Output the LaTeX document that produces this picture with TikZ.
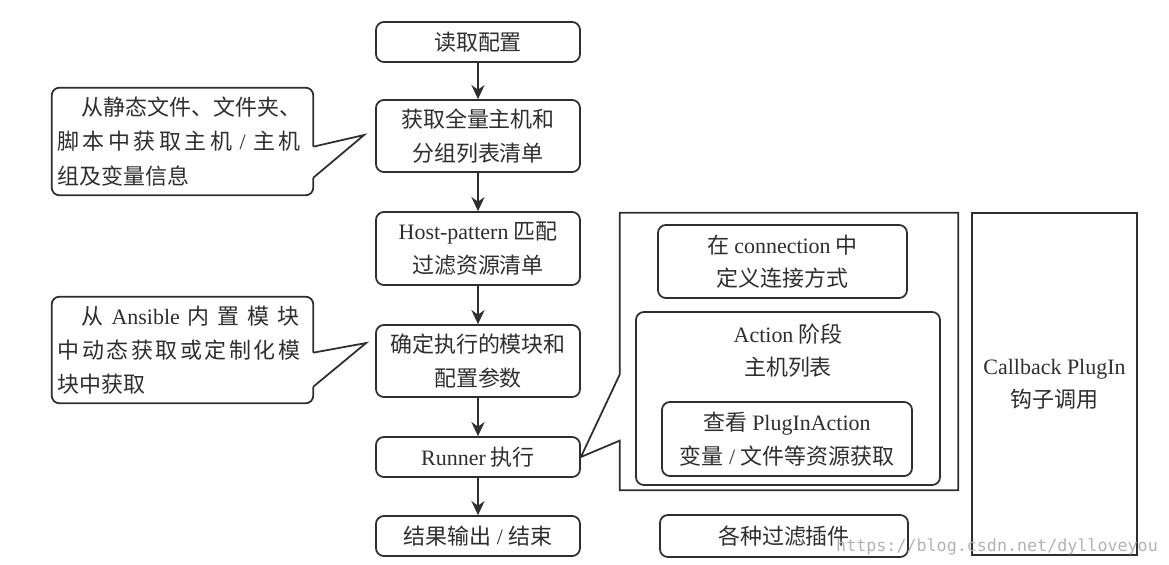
\documentclass[tikz,border=0pt]{standalone}
\usepackage{fontspec}
\setmainfont{Noto Sans CJK SC}
\newfontfamily\latfont{Liberation Serif}
\newfontfamily\wmfont{DejaVu Sans Mono}
\newcommand{\lat}[1]{{\latfont #1}}
\usepackage{tikz}
\usetikzlibrary{calc,arrows.meta,positioning}
\definecolor{ink}{HTML}{2E2E2E}

\begin{document}
\begin{tikzpicture}[
 box/.style={draw=ink, line width=1pt, rounded corners=4.5pt, minimum width=#1,
 minimum height=0.8cm, inner sep=1pt, align=center, text=ink,
 font=\fontsize{12.5}{19}\selectfont},
 box/.default=4.08cm,
 notebox/.style={text width=5.0cm, minimum width=5.22cm, inner sep=0.1cm,
 align=left, text=ink, font=\fontsize{12.5}{19.5}\selectfont},
 arr/.style={-{Stealth[length=8pt, width=7.5pt]}, line width=1pt, ink},
 frame/.style={draw=ink, line width=1pt, line join=miter}
]
\useasboundingbox (0,0) rectangle (23.38,-11.28);

% Main flow
\node[box] (read) at (9.56,-0.84) {读取配置};
\node[box, minimum height=1.44cm] (all) at (9.56,-2.72) {获取全量主机和\\分组列表清单};
\node[box, minimum height=1.46cm] (host) at (9.56,-4.97) {\lat{Host-pattern} 匹配\\过滤资源清单};
\node[box, minimum height=1.44cm] (mod) at (9.56,-7.22) {确定执行的模块和\\配置参数};
\node[box] (run) at (9.56,-9.14) {\lat{Runner} 执行};
\node[box] (out) at (9.56,-10.72) {结果输出\lat{ / }结束};

\draw[arr] (read.south) -- (all.north);
\draw[arr] (all.south) -- (host.north);
\draw[arr] (host.south) -- (mod.north);
\draw[arr] (mod.south) -- (run.north);
\draw[arr] (run.south) -- (out.north);

% Callouts on the left
\node[notebox, minimum height=2.14cm] (c1) at (3.65,-2.83) {
 \hspace*{1.1em}\makebox[4.36cm][s]{从\hfil 静\hfil 态\hfil 文\hfil 件\hfil 、\hfil 文\hfil 件\hfil 夹\hfil 、}\\
 \makebox[4.86cm][s]{脚\hfil 本\hfil 中\hfil 获\hfil 取\hfil 主\hfil 机\lat{ / }主\hfil 机}\\
 组及变量信息
};
\coordinate (c1a) at ([yshift=-1.18cm]c1.north east);
\coordinate (c1b) at ([yshift=-1.8cm]c1.north east);
\draw[frame, rounded corners=4.5pt] (c1a) -- (c1.north east) -- (c1.north west)
 -- (c1.south west) -- (c1.south east) -- (c1b);
\draw[frame] (c1a) -- ($(all.west)+(-0.22,0.02)$) -- (c1b);

\node[notebox, minimum height=2.12cm] (c2) at (3.65,-7.0) {
 \hspace*{1.1em}\makebox[4.36cm][s]{从\hfil\lat{Ansible}\hfil 内\hfil 置\hfil 模\hfil 块}\\
 \makebox[4.86cm][s]{中\hfil 动\hfil 态\hfil 获\hfil 取\hfil 或\hfil 定\hfil 制\hfil 化\hfil 模}\\
 块中获取
};
\coordinate (c2a) at ([yshift=-1.12cm]c2.north east);
\coordinate (c2b) at ([yshift=-1.8cm]c2.north east);
\draw[frame, rounded corners=4.5pt] (c2a) -- (c2.north east) -- (c2.north west)
 -- (c2.south west) -- (c2.south east) -- (c2b);
\draw[frame] (c2a) -- ($(mod.west)+(-0.18,0.36)$) -- (c2b);

% Runner group
\node[minimum width=6.76cm, minimum height=5.54cm, inner sep=0pt] (grp) at (15.78,-7.03) {};
\draw[frame] ([yshift=-3.24cm]grp.north west) -- (grp.north west) -- (grp.north east)
 -- (grp.south east) -- (grp.south west) -- ([yshift=-4.56cm]grp.north west)
 -- (run.east) -- cycle;

\node[box=4.98cm, minimum height=1.46cm] (conn) at (15.65,-5.23) {在 \lat{connection} 中\\定义连接方式};
\node[box=6.08cm, minimum height=3.46cm] (act) at (15.76,-7.97) {};
\node[align=center, text=ink, font=\fontsize{12.5}{19}\selectfont] (actlbl) at (15.76,-7.01) {\lat{Action} 阶段\\主机列表};
\node[box=5.0cm, minimum height=1.48cm] (plug) at (15.74,-8.78) {查看 \lat{PlugInAction}\\变量\lat{ / }文件等资源获取};
\node[box=4.96cm, minimum height=0.84cm] (filt) at (15.68,-10.72) {各种过滤插件};

% Callback column
\node[box=3.3cm, minimum height=6.84cm, sharp corners] (cb) at (21.09,-7.68) {\lat{Callback PlugIn}\\钩子调用};

% Watermark
\node[anchor=base west, text=black!30, font=\wmfont\fontsize{9.5}{10}\selectfont] (wm) at (16.6,-11.02) {https://blog.csdn.net/dylloveyou};
\end{tikzpicture}
\end{document}
